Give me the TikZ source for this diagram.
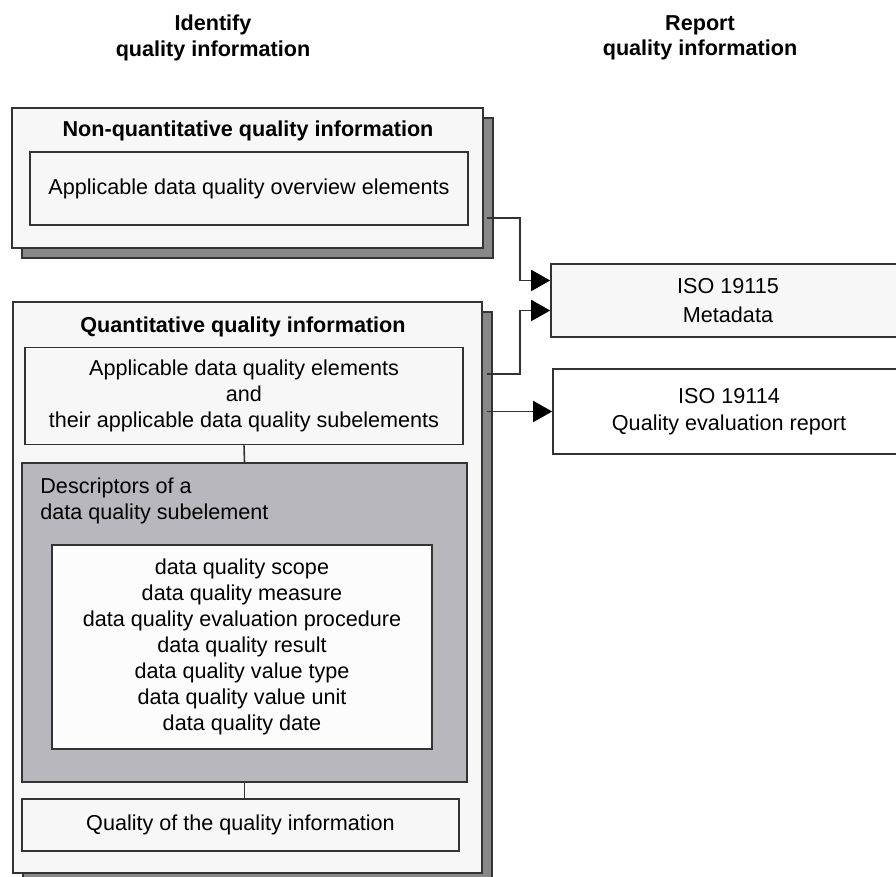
\documentclass[tikz,border=0pt]{standalone}
\usepackage{fontspec}
\setmainfont{Liberation Sans}
\usetikzlibrary{arrows.meta,shadows}

\definecolor{linegray}{HTML}{333333}
\definecolor{paper}{HTML}{F7F7F7}
\definecolor{shadowgray}{HTML}{888888}
\definecolor{descgray}{HTML}{B9B7BE}

\tikzset{
  txt/.style={font=\fontsize{10.8}{13}\selectfont, align=center, inner sep=0pt},
  head/.style={txt, font=\fontsize{10.8}{12.6}\selectfont\bfseries},
  box/.style={txt, draw=linegray, line width=0.8pt, fill=paper},
  outerbox/.style={box, general shadow={fill=shadowgray, draw=linegray, shadow xshift=5pt, shadow yshift=-5pt}},
  link/.style={draw=linegray, line width=0.8pt},
  tip/.style={-{Triangle[length=9.5pt,width=10.5pt,color=black]}}
}

\begin{document}
\begin{tikzpicture}[x=0.5pt, y=-0.5pt]
  \useasboundingbox (0,0) rectangle (896,877);

  % column headings
  \node[head] (identify) at (213,38) {Identify\\quality information};
  \node[head] (report) at (700,38) {Report\\quality information};

  % non-quantitative part
  \node[outerbox, minimum width=235.5pt, minimum height=70pt] (nonquant) at (247.5,178) {};
  \node[head] (nonquanttitle) at (248,131) {Non-quantitative quality information};
  \node[box, minimum width=219pt, minimum height=36.5pt] (overview) at (249,188.5) {Applicable data quality overview elements};

  % quantitative part
  \node[outerbox, minimum width=234.5pt, minimum height=285.5pt] (quant) at (247.5,587.5) {};
  \node[head] (quanttitle) at (243,327) {Quantitative quality information};
  \node[box, minimum width=219pt, minimum height=48.5pt] (elements) at (244,396)
    {Applicable data quality elements\\and\\their applicable data quality subelements};
  \node[box, fill=descgray, minimum width=222.5pt, minimum height=159.5pt] (descriptors) at (244.5,622.5) {};
  \node[txt, align=left, anchor=west] (desctitle) at (40,501) {Descriptors of a\\data quality subelement};
  \node[box, fill=white!60!paper, minimum width=190pt, minimum height=102pt] (values) at (242,647)
    {data quality scope\\data quality measure\\data quality evaluation procedure\\data quality result\\%
     data quality value type\\data quality value unit\\data quality date};
  \node[box, minimum width=218.5pt, minimum height=26pt] (qualityinfo) at (240.5,825) {Quality of the quality information};

  % reports
  \node[box, minimum width=177pt, minimum height=36.5pt] (metadata) at (728,300.5) {ISO 19115\\[1.5pt]Metadata};
  \node[box, fill=white, minimum width=176pt, minimum height=42.5pt] (evalreport) at (729,411.5) {ISO 19114\\[0.5pt]Quality evaluation report};

  % connectors
  \draw[link] (elements.south) -- (descriptors.north);
  \draw[link] (descriptors.south) -- (descriptors.south |- qualityinfo.north);

  \draw[link,tip] ([xshift=1.5pt,yshift=-20pt]nonquant.east) -- ++(16.5pt,0) |- ([yshift=10pt]metadata.west);
  \draw[link,tip] ([xshift=2pt,yshift=106.75pt]quant.east) -- ++(16.5pt,0) |- ([yshift=-5pt]metadata.west);
  \draw[link,tip] ([xshift=2pt]quant.east |- evalreport.west) -- (evalreport.west);
\end{tikzpicture}
\end{document}
